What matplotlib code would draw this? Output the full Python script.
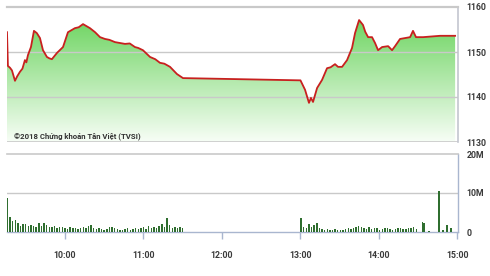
import numpy as np
import matplotlib
matplotlib.use("Agg")
import matplotlib.pyplot as plt
from matplotlib.patches import Polygon

# ---------------- data (minutes since 09:00) ----------------
price_t = [15.7, 16.4, 18.0, 19.5, 21.8, 23.5, 25.6, 27.5, 29.4, 30.5, 31.7, 34.0, 36.3,
           38.5, 40.9, 43.2, 46.2, 48.0, 50.0, 53.9, 58.5, 62.3, 67.6, 70.5, 73.8,
           79.1, 83.0, 86.8, 90.6, 94.0, 98.2, 102.0, 105.9, 109.5, 113.5, 116.0, 119.6,
           125.0, 129.0, 132.6, 136.0, 140.3, 145.6, 150.2,
           240.0, 243.5, 246.5, 248.0, 249.6, 252.7, 256.5, 260.3, 263.0, 266.4, 268.7,
           271.8, 275.6, 279.4, 281.7, 284.8, 287.8, 289.5, 291.7, 294.7, 297.0, 299.3,
           302.4, 307.0, 310.0, 312.3, 316.1, 320.0, 323.8, 326.0, 328.3, 333.7, 346.7,
           358.2]
price_v = [1154.4, 1146.9, 1146.5, 1145.9, 1143.6, 1144.6, 1145.6, 1146.3, 1148.2, 1147.7,
           1149.3, 1151.1, 1154.7, 1154.2, 1153.1, 1150.4, 1148.9, 1148.6, 1148.4, 1149.8,
           1151.1, 1154.4, 1155.3, 1155.5, 1156.2, 1155.3, 1154.4, 1153.3, 1152.9, 1152.7,
           1152.2, 1152.0, 1151.8, 1151.9, 1151.1, 1150.9, 1150.4, 1148.9, 1148.4, 1147.6,
           1147.4, 1146.7, 1145.1, 1144.2,
           1143.7, 1141.6, 1138.7, 1139.8, 1138.9, 1142.0, 1143.8, 1146.4, 1146.6, 1147.3,
           1146.7, 1146.7, 1148.2, 1150.9, 1154.2, 1157.1, 1156.0, 1154.5, 1153.3, 1153.3,
           1152.0, 1150.4, 1151.1, 1151.3, 1150.4, 1151.3, 1152.9, 1153.1, 1153.3, 1154.7,
           1153.3, 1153.3, 1153.6, 1153.6]

# volume, in millions, 2-minute bars
morning_start = 16.0
morning_vol = [8.7, 3.8, 2.8, 3.0, 2.2, 1.5, 2.0, 2.0, 1.5, 1.8, 1.6, 1.4, 2.2, 1.5,
               2.4, 1.8, 1.2, 1.4, 1.5, 1.0, 1.3, 1.2, 1.0, 0.8, 1.2, 0.9, 1.0, 0.7,
               1.1, 1.3, 0.9, 1.6, 1.8, 1.0, 0.8, 0.9, 0.7, 0.6, 0.8, 1.2, 1.4, 0.9,
               0.7, 0.6, 0.5, 0.7, 0.9, 0.6, 0.8, 1.0, 0.7, 0.9, 1.2, 0.8, 1.5, 1.0,
               1.3, 1.1, 1.5, 2.0, 1.2, 3.6, 1.8, 1.1, 1.2, 1.0, 1.3, 1.0]
afternoon_start = 240.5
afternoon_vol = [3.6, 1.2, 1.0, 2.0, 1.4, 1.8, 2.2, 1.0, 0.8, 0.6, 0.7, 0.5, 0.6, 0.8,
                 0.5, 0.4, 0.6, 0.7, 0.9, 0.8, 1.1, 1.3, 1.5, 1.2, 1.0, 0.8, 1.2, 0.7,
                 0.9, 1.1, 0.6, 0.8, 1.0, 0.9, 0.7, 0.6, 0.8, 0.9, 1.0, 0.8, 0.7, 0.9,
                 1.1, 1.3, 0.8]
late_t = [333.2, 334.5, 338.3, 346.0, 349.0, 352.0, 355.0]
late_vol = [2.6, 2.4, 0.3, 10.6, 0.4, 1.8, 0.9]

price_ticks = [1130, 1140, 1150, 1160]
vol_ticks = [0, 10, 20]
vol_tick_labels = ["0", "10M", "20M"]
time_ticks = [60, 120, 180, 240, 300, 360]
time_labels = ["10:00", "11:00", "12:00", "13:00", "14:00", "15:00"]
watermark = "©2018 Chứng khoán Tân Việt (TVSI)"

# ---------------- figure ----------------
W, H = 490, 276
fig = plt.figure(figsize=(W / 100, H / 100), dpi=100)
fig.patch.set_facecolor("white")
plt.rcParams['font.family'] = ['Roboto', 'DejaVu Sans']

XMIN, XMAX = 15.7, 360.4
grid_c = "#c9c9c9"
axis_c = "#a9b6cf"
lab_c = "#3a3a3a"
FS = 6.3

ax1 = fig.add_axes([7 / W, 1 - 142 / H, 451 / W, 135 / H])
ax2 = fig.add_axes([7 / W, 1 - 232 / H, 451 / W, 78 / H])

# --- price panel ---
ax1.set_xlim(XMIN, XMAX)
ax1.set_ylim(1130, 1160)
pt = np.array(price_t)
pv = np.array(price_v)
verts = np.column_stack([np.r_[pt[0], pt, pt[-1]], np.r_[1130, pv, 1130]])
poly = Polygon(verts, closed=True, facecolor="none", edgecolor="none")
ax1.add_patch(poly)
top = np.array([0.42, 0.83, 0.37])
bot = np.array([0.97, 0.995, 0.965])
g = np.linspace(0, 1, 256)[:, None]
grad = top[None, None, :] * (1 - g[:, :, None]) + bot[None, None, :] * g[:, :, None]
grad = np.repeat(grad, 2, axis=1)
im = ax1.imshow(grad, extent=[XMIN, XMAX, 1130, 1158], aspect="auto", origin="upper", zorder=1)
im.set_clip_path(poly)
for yv in [1140, 1150]:
    ax1.axhline(yv, color=grid_c, lw=1.0, zorder=2)
ax1.plot(pt, pv, color="#c8201f", lw=1.3, zorder=3, solid_joinstyle="round")
for s in ["left", "bottom"]:
    ax1.spines[s].set_visible(False)
ax1.spines["top"].set_color(grid_c)
ax1.spines["top"].set_linewidth(1.6)
ax1.axhline(1130, color=grid_c, lw=1.2, zorder=2)
ax1.spines["right"].set_color("#c3c6cf")
ax1.spines["right"].set_linewidth(1.2)
ax1.yaxis.tick_right()
ax1.set_yticks(price_ticks)
ax1.set_yticklabels([str(v) for v in price_ticks])
ax1.tick_params(axis="y", length=0, pad=6, labelsize=FS, labelcolor=lab_c)
ax1.set_xticks([])
for lbl in ax1.get_yticklabels():
    lbl.set_fontweight("bold")
ax1.text(14 / W, 1 - 136 / H, watermark, transform=fig.transFigure, fontsize=5.6,
         color="#333333", va="center", ha="left", fontweight="bold", zorder=5)

# --- volume panel ---
ax2.set_xlim(XMIN, XMAX)
ax2.set_ylim(0, 20)
mt = morning_start + 2 * np.arange(len(morning_vol))
at = afternoon_start + 2 * np.arange(len(afternoon_vol))
bar_c = "#2f6e2f"
ax2.bar(mt, morning_vol, width=1.1, color=bar_c, linewidth=0, zorder=3)
ax2.bar(at, afternoon_vol, width=1.1, color=bar_c, linewidth=0, zorder=3)
ax2.bar(late_t, late_vol, width=1.1, color=bar_c, linewidth=0, zorder=3)
ax2.axhline(10, color=grid_c, lw=1.0, zorder=1)
ax2.spines["left"].set_visible(False)
ax2.spines["top"].set_color(grid_c)
ax2.spines["top"].set_linewidth(1.2)
ax2.spines["bottom"].set_color(axis_c)
ax2.spines["bottom"].set_linewidth(1.0)
ax2.spines["right"].set_color(axis_c)
ax2.spines["right"].set_linewidth(1.0)
ax2.yaxis.tick_right()
ax2.set_yticks(vol_ticks)
ax2.set_yticklabels(vol_tick_labels)
ax2.tick_params(axis="y", length=0, pad=6, labelsize=FS, labelcolor=lab_c)
ax2.set_xticks(time_ticks)
ax2.set_xticklabels(time_labels)
ax2.tick_params(axis="x", length=5, width=1, color=axis_c, pad=9, labelsize=FS,
                labelcolor=lab_c)
for lbl in ax2.get_yticklabels() + ax2.get_xticklabels():
    lbl.set_fontweight("bold")

fig.savefig("out.png", dpi=100, facecolor="white")
